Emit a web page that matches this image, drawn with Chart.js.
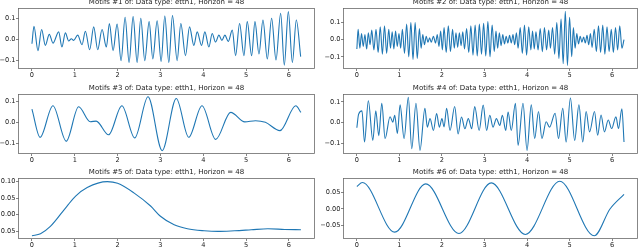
<!DOCTYPE html>
<html><head><meta charset="utf-8">
<script src="https://cdn.jsdelivr.net/npm/chart.js@4"></script>
<style>
html,body{margin:0;padding:0;background:#fff;width:640px;height:248px;overflow:hidden;position:relative}
canvas{position:absolute}
</style></head><body>
<canvas id="c1"></canvas><canvas id="c2"></canvas><canvas id="c3"></canvas>
<canvas id="c4"></canvas><canvas id="c5"></canvas><canvas id="c6"></canvas>
<script>
const FONT = '"DejaVu Sans", sans-serif';
const titles = [
  'Motifs #1 of: Data type: etth1, Horizon = 48',
  'Motifs #2 of: Data type: etth1, Horizon = 48',
  'Motifs #3 of: Data type: etth1, Horizon = 48',
  'Motifs #4 of: Data type: etth1, Horizon = 48',
  'Motifs #5 of: Data type: etth1, Horizon = 48',
  'Motifs #6 of: Data type: etth1, Horizon = 48'
];
const xTickValues = [0, 1, 2, 3, 4, 5, 6];
const xTickLabels = ['0', '1', '2', '3', '4', '5', '6'];

const yTicks1 = [-0.1, 0, 0.1];   const yLabels1 = ['\u22120.1', '0.0', '0.1'];
const yTicks2 = [-0.1, 0, 0.1];   const yLabels2 = ['\u22120.1', '0.0', '0.1'];
const yTicks3 = [-0.1, 0, 0.1];   const yLabels3 = ['\u22120.1', '0.0', '0.1'];
const yTicks4 = [-0.1, 0, 0.1];   const yLabels4 = ['\u22120.1', '0.0', '0.1'];
const yTicks5 = [-0.05, 0, 0.05, 0.10]; const yLabels5 = ['\u22120.05', '0.00', '0.05', '0.10'];
const yTicks6 = [-0.05, 0, 0.05]; const yLabels6 = ['\u22120.05', '0.00', '0.05'];

// [x, value] pairs (turning points of each curve)
const motif1 = [
 [0,-0.021],[0.047,0.063],[0.14,-0.054],[0.226,0.047],[0.312,-0.029],[0.405,0.024],[0.491,-0.018],
 [0.624,0.036],[0.70,-0.037],[0.78,0.031],[0.857,-0.008],[0.92,0.003],[0.974,-0.005],[1.068,0.020],
 [1.169,-0.026],[1.247,0.039],[1.348,-0.050],[1.442,0.060],[1.535,-0.050],[1.637,0.047],[1.738,-0.037],
 [1.808,0.076],[1.894,-0.054],[1.988,0.073],[2.081,-0.102],[2.175,0.106],[2.268,-0.111],[2.362,0.109],
 [2.455,-0.111],[2.541,0.101],[2.634,-0.102],[2.736,0.085],[2.822,-0.094],[2.923,0.089],[3.016,-0.106],
 [3.102,0.112],[3.196,-0.111],[3.281,0.114],[3.39,-0.102],[3.476,0.076],[3.585,-0.078],[3.679,0.060],
 [3.78,-0.029],[3.858,0.036],[3.96,-0.029],[4.037,0.036],[4.131,-0.037],[4.209,0.028],[4.287,-0.013],
 [4.365,0.020],[4.435,-0.005],[4.505,0.020],[4.583,-0.010],[4.677,0.044],[4.755,-0.078],[4.848,0.076],
 [4.949,-0.078],[5.027,0.085],[5.129,-0.078],[5.207,0.085],[5.30,-0.070],[5.394,0.093],[5.495,-0.094],
 [5.596,0.101],[5.698,-0.099],[5.807,0.125],[5.892,-0.124],[5.986,0.133],[6.08,-0.111],[6.173,0.093],
 [6.274,-0.083]
];
const motif2 = [
 [0,-0.055],[0.03,0.060],[0.07,-0.050],[0.11,0.035],[0.15,-0.040],[0.19,0.030],[0.23,-0.055],[0.27,0.040],
 [0.31,-0.030],[0.35,0.055],[0.40,-0.060],[0.45,0.060],[0.50,-0.075],[0.55,0.075],[0.60,-0.085],[0.65,0.080],
 [0.70,-0.080],[0.75,0.060],[0.79,-0.050],[0.83,0.045],[0.87,-0.055],[0.91,0.050],[0.95,-0.040],[0.99,0.035],
 [1.03,-0.050],[1.07,0.060],[1.12,-0.080],[1.17,0.090],[1.22,-0.100],[1.27,0.100],[1.32,-0.115],[1.37,0.100],
 [1.42,-0.110],[1.47,0.065],[1.51,-0.050],[1.55,0.030],[1.59,-0.030],[1.63,0.020],[1.67,-0.015],[1.71,0.010],
 [1.75,-0.015],[1.80,0.020],[1.85,-0.020],[1.89,0.030],[1.93,-0.040],[1.97,0.050],[2.01,-0.060],[2.05,0.070],
 [2.10,-0.075],[2.15,0.080],[2.20,-0.070],[2.25,0.060],[2.29,-0.050],[2.33,0.040],[2.37,-0.045],[2.41,0.040],
 [2.45,-0.035],[2.49,0.045],[2.53,-0.055],[2.58,0.065],[2.63,-0.075],[2.68,0.080],[2.73,-0.090],[2.78,0.085],
 [2.83,-0.095],[2.88,0.090],[2.93,-0.085],[2.98,0.095],[3.03,-0.095],[3.08,0.105],[3.13,-0.100],[3.18,0.085],
 [3.23,-0.070],[3.27,0.050],[3.31,-0.050],[3.35,0.040],[3.39,-0.035],[3.43,0.030],[3.47,-0.025],[3.51,0.020],
 [3.55,-0.020],[3.59,0.025],[3.63,-0.020],[3.67,0.030],[3.71,-0.030],[3.75,0.040],[3.79,-0.050],[3.84,0.070],
 [3.89,-0.080],[3.94,0.085],[3.99,-0.090],[4.04,0.075],[4.09,-0.060],[4.13,0.050],[4.17,-0.055],[4.21,0.045],
 [4.26,-0.060],[4.31,0.065],[4.36,-0.070],[4.41,0.070],[4.46,-0.060],[4.51,0.055],[4.55,-0.050],[4.60,0.070],
 [4.65,-0.085],[4.70,0.100],[4.75,-0.110],[4.80,0.120],[4.85,-0.140],[4.90,0.165],[4.95,-0.150],[5.00,0.130],
 [5.05,-0.100],[5.09,0.070],[5.13,-0.050],[5.17,0.035],[5.21,-0.025],[5.25,0.020],[5.29,-0.015],[5.33,0.015],
 [5.37,-0.020],[5.41,0.025],[5.45,-0.030],[5.49,0.035],[5.53,-0.045],[5.58,0.060],[5.63,-0.070],[5.68,0.080],
 [5.73,-0.075],[5.78,0.085],[5.83,-0.085],[5.88,0.075],[5.93,-0.070],[5.98,0.060],[6.03,-0.075],[6.08,0.070],
 [6.13,-0.060],[6.18,0.080],[6.23,-0.050],[6.28,0.000]
];
const motif3 = [
 [0,0.064],[0.19,-0.072],[0.49,0.080],[0.80,-0.091],[1.09,0.075],[1.36,0.003],[1.50,0.006],[1.79,-0.060],
 [2.10,0.080],[2.40,-0.075],[2.71,0.123],[3.04,-0.136],[3.37,0.115],[3.66,-0.072],[3.97,0.080],[4.29,-0.082],
 [4.64,0.048],[4.97,0.002],[5.22,0.008],[5.45,0.000],[5.79,-0.040],[6.16,0.080],[6.28,0.048]
];
const motif4 = [
 [0,-0.024],[0.04,0.040],[0.12,0.057],[0.18,-0.093],[0.27,0.106],[0.375,-0.085],[0.445,0.057],[0.515,-0.062],
 [0.586,0.094],[0.664,-0.076],[0.78,0.029],[0.845,0.003],[0.89,0.036],[0.953,-0.052],[1.016,0.086],[1.11,-0.076],
 [1.21,0.122],[1.29,-0.125],[1.39,0.094],[1.484,-0.133],[1.60,0.070],[1.656,-0.021],[1.72,0.020],[1.80,-0.037],
 [1.875,0.044],[1.94,-0.021],[2.0,0.020],[2.05,-0.020],[2.11,0.070],[2.19,-0.037],[2.30,0.078],[2.38,-0.054],
 [2.46,0.028],[2.54,-0.029],[2.62,0.020],[2.70,-0.029],[2.77,0.078],[2.875,-0.037],[2.97,0.085],[3.05,-0.037],
 [3.125,0.036],[3.20,-0.021],[3.28,0.020],[3.36,-0.013],[3.42,0.036],[3.50,-0.037],[3.555,0.052],[3.63,-0.037],
 [3.727,0.094],[3.79,-0.109],[3.906,0.094],[4.0,-0.133],[4.10,0.086],[4.18,-0.076],[4.27,0.054],[4.35,-0.076],
 [4.45,0.005],[4.53,-0.021],[4.66,0.046],[4.74,-0.076],[4.84,0.070],[4.92,-0.093],[5.02,0.119],[5.12,-0.085],
 [5.22,0.086],[5.31,-0.093],[5.39,0.054],[5.47,-0.044],[5.586,0.054],[5.66,-0.060],[5.74,0.037],[5.82,-0.044],
 [5.91,0.013],[5.99,-0.028],[6.09,0.029],[6.15,-0.028],[6.23,0.067],[6.28,-0.093]
];
const motif5 = [
 [0,-0.064],[0.2,-0.058],[0.43,-0.036],[0.82,0.026],[1.02,0.056],[1.29,0.082],[1.76,0.100],[2.0,0.095],
 [2.38,0.066],[2.77,0.026],[3.0,-0.005],[3.32,-0.031],[3.63,-0.043],[4.02,-0.049],[4.34,-0.051],[4.73,-0.049],
 [5.12,-0.046],[5.51,-0.043],[5.9,-0.045],[6.28,-0.046]
];
const motif6 = [
 [0,0.069],[0.13,0.081],[0.89,-0.071],[1.62,0.077],[2.40,-0.075],[3.16,0.080],[3.96,-0.078],[4.77,0.085],
 [5.58,-0.082],[5.95,0.0],[6.28,0.045]
];

const COLS = [{left:0, axisW:18.5, padR:5.5}, {left:320, axisW:23.5, padR:2.5}];
const ROWS = [{top:-4, F:8.5, B:68.5, H:86}, {top:82, F:94.5, B:153.5, H:85}, {top:166, F:178.5, B:238.5, H:86}];

const panels = [
 {id:'c1', data:motif1, title:titles[0], yMin:-0.140, yMax:0.148, yTicks:yTicks1, yLabels:yLabels1, col:0, row:0},
 {id:'c2', data:motif2, title:titles[1], yMin:-0.168, yMax:0.181, yTicks:yTicks2, yLabels:yLabels2, col:1, row:0},
 {id:'c3', data:motif3, title:titles[2], yMin:-0.150, yMax:0.134, yTicks:yTicks3, yLabels:yLabels3, col:0, row:1},
 {id:'c4', data:motif4, title:titles[3], yMin:-0.148, yMax:0.136, yTicks:yTicks4, yLabels:yLabels4, col:1, row:1},
 {id:'c5', data:motif5, title:titles[4], yMin:-0.0725, yMax:0.1095, yTicks:yTicks5, yLabels:yLabels5, col:0, row:2},
 {id:'c6', data:motif6, title:titles[5], yMin:-0.0904, yMax:0.0934, yTicks:yTicks6, yLabels:yLabels6, col:1, row:2}
];

const framePlugin = {
  id: 'frame',
  afterDraw(chart) {
    const {ctx, chartArea: a} = chart;
    ctx.save();
    ctx.strokeStyle = '#6a6a6a';
    ctx.lineWidth = 0.8;
    ctx.strokeRect(a.left, a.top, a.right - a.left, a.bottom - a.top);
    ctx.restore();
  }
};

const tickFont = {family: FONT, size: 6.6, lineHeight: 1};

panels.forEach(p => {
  const col = COLS[p.col], row = ROWS[p.row];
  const cv = document.getElementById(p.id);
  cv.width = 320; cv.height = row.H;
  cv.style.left = col.left + 'px'; cv.style.top = row.top + 'px';
  cv.style.width = '320px'; cv.style.height = row.H + 'px';
  const padTop = row.F - row.top - 7 - 3.3;
  const xAxisH = row.top + row.H - row.B;
  new Chart(cv.getContext('2d'), {
    type: 'line',
    data: {datasets: [{
      data: p.data.map(([x, y]) => ({x, y})),
      borderColor: '#1f77b4', borderWidth: 1.1, pointRadius: 0, fill: false,
      cubicInterpolationMode: 'monotone'
    }]},
    options: {
      responsive: false, animation: false, devicePixelRatio: 1,
      layout: {padding: {left: 0, right: col.padR, top: 0, bottom: 0}},
      plugins: {
        legend: {display: false}, tooltip: {enabled: false},
        title: {display: true, text: p.title, fullSize: false, color: '#222',
          font: {family: FONT, size: 7, weight: 'normal', lineHeight: 1},
          padding: {top: padTop, bottom: 3.3}}
      },
      scales: {
        x: {
          type: 'linear', min: -0.314, max: 6.597,
          afterBuildTicks: s => { s.ticks = xTickValues.map(v => ({value: v})); },
          afterFit: s => { s.height = xAxisH; },
          ticks: {callback: (v, i) => xTickLabels[i], font: tickFont, color: '#222', padding: 1, maxRotation: 0, autoSkip: false},
          grid: {drawOnChartArea: false, drawTicks: true, tickLength: 2.5, color: '#666', lineWidth: 0.8},
          border: {display: false}
        },
        y: {
          type: 'linear', min: p.yMin, max: p.yMax,
          afterBuildTicks: s => { s.ticks = p.yTicks.map(v => ({value: v})); },
          afterFit: s => { s.width = col.axisW; },
          ticks: {callback: (v, i) => p.yLabels[i], font: tickFont, color: '#222', padding: 0.5, autoSkip: false},
          grid: {drawOnChartArea: false, drawTicks: true, tickLength: 2.5, color: '#666', lineWidth: 0.8},
          border: {display: false}
        }
      }
    },
    plugins: [framePlugin]
  });
});
</script>
</body></html>
